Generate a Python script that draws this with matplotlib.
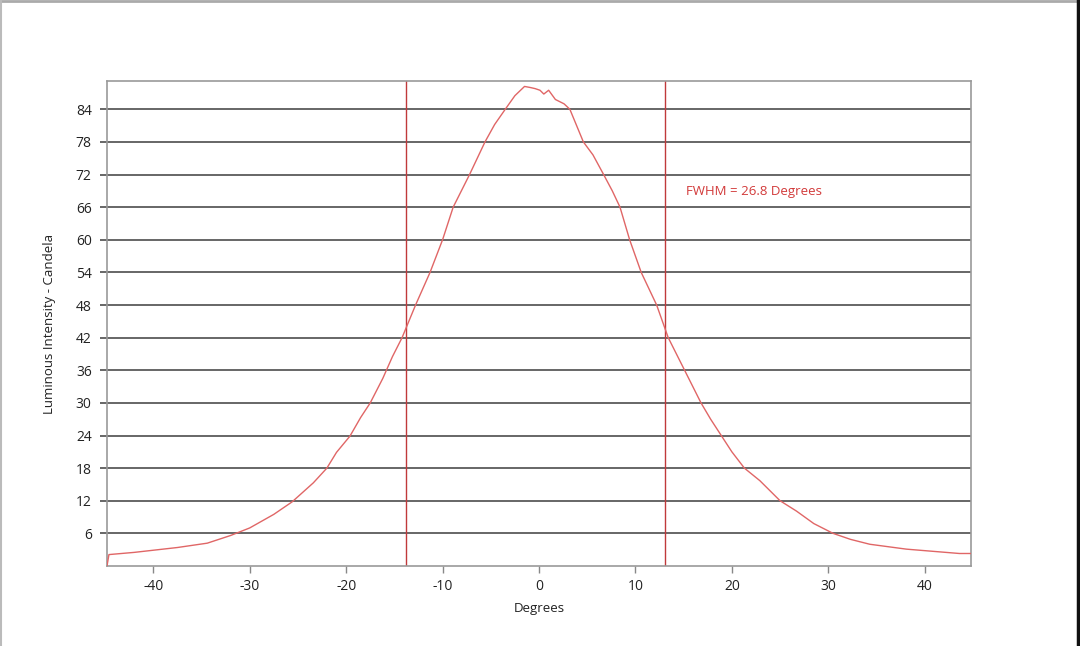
import matplotlib
matplotlib.use("Agg")
import matplotlib.pyplot as plt
from matplotlib.lines import Line2D

plt.rcParams['font.family'] = ['Open Sans', 'DejaVu Sans']

# Data
degrees = [-44.8, -44.6, -42.0, -40.0, -37.5, -34.4, -32.0, -30.0, -27.5, -25.6,
           -23.4, -22.0, -21.0, -19.6, -18.5, -17.5, -16.2, -15.2, -14.2, -12.8,
           -11.3, -10.0, -8.9, -7.2, -5.6, -4.6, -3.5, -2.5, -1.5, -0.9, -0.4,
           0.1, 0.5, 1.0, 1.7, 2.6, 3.2, 3.9, 4.6, 5.6, 6.7, 7.6, 8.4,
           9.4, 10.6, 12.2, 13.4, 15.1, 16.8, 17.8, 18.9, 20.0, 21.3, 22.9, 25.0,
           26.7, 28.5, 30.5, 32.3, 34.3, 38.1, 43.6, 44.8]
candela = [0.0, 2.1, 2.5, 2.9, 3.4, 4.2, 5.6, 7.0, 9.5, 11.8,
           15.3, 18.0, 20.9, 23.9, 27.3, 30.0, 34.5, 38.5, 42.0, 48.0,
           54.0, 60.0, 66.0, 72.0, 78.0, 81.2, 84.0, 86.5, 88.2, 88.0, 87.8,
           87.5, 86.8, 87.5, 85.8, 85.0, 84.0, 81.0, 78.0, 75.6, 72.0, 69.0, 66.0,
           60.0, 54.0, 48.0, 42.0, 36.0, 30.0, 27.0, 24.0, 21.0, 18.0, 15.7, 12.0,
           10.1, 7.8, 6.0, 4.9, 4.0, 3.1, 2.3, 2.3]
fwhm_left = -13.8
fwhm_right = 13.1
y_ticks = [6, 12, 18, 24, 30, 36, 42, 48, 54, 60, 66, 72, 78, 84]
x_ticks = [-40, -30, -20, -10, 0, 10, 20, 30, 40]
annotation = "FWHM = 26.8 Degrees"

fig = plt.figure(figsize=(10.8, 6.46), dpi=100)
ax = fig.add_axes([107/1080, 1 - 566/646, (971-107)/1080, (566-81)/646])

ax.set_xlim(-44.8, 44.8)
ax.set_ylim(0, 89.2)

for yv in y_ticks:
    ax.axhline(yv, color='#5a5a5a', lw=1.3, zorder=1)

ax.axvline(fwhm_left, color='#c0393b', lw=1.0, zorder=2)
ax.axvline(fwhm_right, color='#c0393b', lw=1.0, zorder=2)

ax.plot(degrees, candela, color='#e06666', lw=1.0, zorder=3)

ax.text(15.2, 68.9, annotation, color='#d23a3a', fontsize=9.5, va='center', ha='left')

ax.set_xticks(x_ticks)
ax.set_xticklabels([str(v) for v in x_ticks])
ax.set_yticks(y_ticks)
ax.set_yticklabels([str(v) for v in y_ticks])
ax.tick_params(axis='x', direction='out', length=5, width=1, color='#888888',
               labelsize=10, labelcolor='#222222', pad=4)
ax.tick_params(axis='y', direction='out', length=5, width=1.3, color='#5a5a5a',
               labelsize=10, labelcolor='#222222', pad=6)

for sp in ax.spines.values():
    sp.set_color('#9a9a9a')
    sp.set_linewidth(1.2)

ax.set_xlabel('Degrees', fontsize=9.5, color='#222222', labelpad=6)
ax.set_ylabel('Luminous Intensity - Candela', fontsize=9.5, color='#222222', labelpad=14)

# frame edges of the screenshot
fig.add_artist(Line2D([0, 1], [0.998, 0.998], transform=fig.transFigure, color='#aaaaaa', lw=2))
fig.add_artist(Line2D([0.0008, 0.0008], [0, 1], transform=fig.transFigure, color='#bbbbbb', lw=1.5))
fig.add_artist(Line2D([0.9985, 0.9985], [0, 1], transform=fig.transFigure, color='#111111', lw=2.5))

fig.savefig('out.png', dpi=100, facecolor='white')
